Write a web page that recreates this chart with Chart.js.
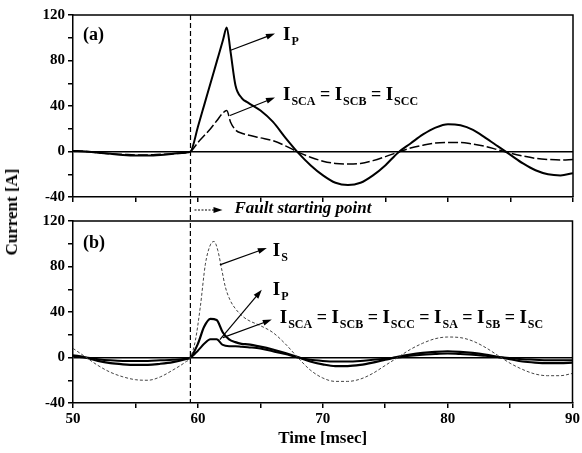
<!DOCTYPE html>
<html>
<head>
<meta charset="utf-8">
<script src="https://cdn.jsdelivr.net/npm/chart.js@4.4.1/dist/chart.umd.min.js"></script>
<style>
  body { margin: 0; background: #fff; }
  #wrap { position: relative; width: 582px; height: 453px; }
  #chartA { position: absolute; left: 0; top: 0; }
  #chartB { position: absolute; left: 0; top: 205px; }
  #ylab {
    position: absolute; left: 12px; top: 212px;
    transform: translate(-50%, -50%) rotate(-90deg);
    font: bold 17px "Liberation Serif", serif; white-space: nowrap; color: #000;
  }
</style>
</head>
<body>
<div id="wrap">
  <canvas id="chartA" width="582" height="225"></canvas>
  <canvas id="chartB" width="582" height="248"></canvas>
  <div id="ylab">Current [A]</div>
</div>
<script>
const faultTime = 59.4;

// panel (a)
const timeA = [50, 51, 52, 53, 54, 55, 56, 57, 58, 59, 59.4, 60, 60.5, 61, 61.5, 62, 62.3, 62.6, 63, 63.5, 64,
  65, 66, 67, 68, 69, 70, 71, 72, 73, 74, 75, 76, 77, 78, 79, 80, 81, 82, 83, 84, 85, 86, 87, 88, 89, 90];
const ipA = [0.5, 0, -1, -2, -3, -3.5, -3.5, -3, -2, -1, 0, 22, 41, 60, 79, 98, 109, 88, 58, 47, 43,
  36, 26, 12, -1, -12, -21, -27.5, -29.5, -27.5, -21, -12, -1, 7, 15, 21, 24, 23, 19, 12, 4.5, -3, -10.5, -16.5, -20, -21, -19];
const iscA = [0.5, 0, -1, -2, -2.5, -3, -3, -2.5, -2, -1, 0, 8, 14, 20, 27, 34, 36, 26, 19, 16, 14.5,
  12, 9.5, 5, -0.5, -5, -8.5, -10.5, -11, -10.5, -8, -4.5, -0.5, 3, 5.5, 7.5, 8, 8, 6.5, 4.5, 1.5, -1.5, -4, -6, -7, -7.5, -7];

// panel (b)
const timeS = [50, 51, 52, 53, 54, 55, 56, 57, 58, 59, 59.4, 59.8, 60.2, 60.6, 61, 61.3, 61.6, 61.9, 62.2, 62.6, 63, 63.5, 64,
  65, 66, 67, 68, 69, 70, 71, 72, 73, 74, 75, 76, 77, 78, 79, 80, 81, 82, 83, 84, 85, 86, 87, 88, 89, 90];
const isB = [8, 0.5, -7, -13, -17, -19.5, -20, -17, -11, -4, 0, 15, 45, 82, 99, 102, 94, 78, 62, 50, 43, 37, 33,
  28, 22, 12, 0, -11, -18, -21, -21, -19, -14, -7, 0, 7, 12.5, 16.5, 18, 17.5, 14.5, 9, 2, -5, -10.5, -14.5, -16, -16, -14];
const timeB = [50, 51, 52, 53, 54, 55, 56, 57, 58, 59, 59.4, 60, 60.5, 61, 61.5, 62, 62.5, 63, 63.5, 64,
  65, 66, 67, 68, 69, 70, 71, 72, 73, 74, 75, 76, 77, 78, 79, 80, 81, 82, 83, 84, 85, 86, 87, 88, 89, 90];
const ipB = [2, 0, -3, -5, -6, -6.5, -6.5, -5.5, -4, -1.5, 0, 12, 27, 34, 33, 22, 16, 13.5, 12, 11.5,
  9.5, 7, 4, 0.5, -3.5, -6, -7.5, -7.5, -6.5, -4.5, -2, 0.5, 2.5, 4, 5, 5.5, 5, 4, 2.5, 0.5, -1.5, -3.5, -4.5, -5, -5, -4.5];
const iscB = [1, 0, -1.5, -2.5, -3, -3, -3, -2.5, -2, -1, 0, 6, 12, 16, 16, 11, 10, 10, 9.5, 9,
  8, 5.5, 3, 0, -2, -3, -3.5, -3.5, -3, -2, -1, 0, 1.5, 2.5, 3, 3.5, 3, 2.5, 1.5, 0.5, -0.5, -1.5, -2, -2.5, -2.5, -2.5];

const xTicks = { min: 50, max: 90, step: 5 };
const yTicks = { min: -40, max: 120, step: 20 };

// annotations in data units: [time, current]
const labelsA = [
  { at: [66.8, 97.6], parts: [['I', 'P']], from: [62.56, 88.8], to: [66.16, 103.7] },
  { at: [66.8, 45.7], parts: [['I', 'SCA'], ['I', 'SCB'], ['I', 'SCC']], from: [62.56, 31.6], to: [66.16, 47.5] },
];
const labelsB = [
  { at: [66.0, 89.3], parts: [['I', 'S']], from: [61.76, 81.4], to: [65.52, 96.3] },
  { at: [66.0, 55.2], parts: [['I', 'P']], from: [61.76, 15.8], to: [65.12, 59.5] },
  { at: [66.56, 30.6], parts: [['I', 'SCA'], ['I', 'SCB'], ['I', 'SCC'], ['I', 'SA'], ['I', 'SB'], ['I', 'SC']],
    from: [62.0, 17.5], to: [65.92, 33.3] },
];

const serif = '"Liberation Serif", "Times New Roman", serif';
const pts = (t, v) => t.map((x, i) => ({ x, y: v[i] }));

function arrow(ctx, x1, y1, x2, y2, dash) {
  const a = Math.atan2(y2 - y1, x2 - x1);
  ctx.save();
  ctx.strokeStyle = '#000';
  ctx.fillStyle = '#000';
  ctx.lineWidth = 1.2;
  if (dash) ctx.setLineDash(dash);
  ctx.beginPath();
  ctx.moveTo(x1, y1);
  ctx.lineTo(x2 - 6 * Math.cos(a), y2 - 6 * Math.sin(a));
  ctx.stroke();
  ctx.setLineDash([]);
  ctx.beginPath();
  ctx.moveTo(x2, y2);
  ctx.lineTo(x2 - 9 * Math.cos(a) + 3 * Math.sin(a), y2 - 9 * Math.sin(a) - 3 * Math.cos(a));
  ctx.lineTo(x2 - 9 * Math.cos(a) - 3 * Math.sin(a), y2 - 9 * Math.sin(a) + 3 * Math.cos(a));
  ctx.closePath();
  ctx.fill();
  ctx.restore();
}

function subText(ctx, x, y, parts) {
  let cx = x;
  ctx.save();
  ctx.fillStyle = '#000';
  ctx.textBaseline = 'alphabetic';
  ctx.textAlign = 'left';
  parts.forEach((p, i) => {
    if (i > 0) {
      ctx.font = 'bold 18px ' + serif;
      ctx.fillText(' = ', cx, y);
      cx += ctx.measureText(' = ').width;
    }
    ctx.font = 'bold 19px ' + serif;
    ctx.fillText(p[0], cx, y);
    cx += ctx.measureText(p[0]).width + 1;
    ctx.font = 'bold 12px ' + serif;
    ctx.fillText(p[1], cx, y + 5);
    cx += ctx.measureText(p[1]).width;
  });
  ctx.restore();
}

function panelPlugin(tag, labels, isTop) {
  return {
    id: 'panel' + tag,
    afterDatasetsDraw(chart) {
      const { ctx, chartArea: ca, scales } = chart;
      const px = t => scales.x.getPixelForValue(t);
      const py = v => scales.y.getPixelForValue(v);
      labels.forEach(l => {
        arrow(ctx, px(l.from[0]), py(l.from[1]), px(l.to[0]), py(l.to[1]));
        subText(ctx, px(l.at[0]), py(l.at[1]), l.parts);
      });
      // fault line
      const fx = px(faultTime);
      ctx.save();
      ctx.strokeStyle = '#000';
      ctx.lineWidth = 1.2;
      ctx.setLineDash([5, 3]);
      ctx.beginPath();
      if (isTop) {
        ctx.moveTo(fx, ca.top);
        ctx.lineTo(fx, ca.bottom + 8);
      } else {
        ctx.lineDashOffset = 6;
        ctx.moveTo(fx, 0);
        ctx.lineTo(fx, ca.bottom);
      }
      ctx.stroke();
      ctx.restore();
      // panel tag
      ctx.save();
      ctx.fillStyle = '#000';
      ctx.font = 'bold 18px ' + serif;
      ctx.fillText('(' + tag + ')', ca.left + 10, ca.top + (isTop ? 25 : 27));
      if (isTop) {
        arrow(ctx, fx + 4, ca.bottom + 13, fx + 32, ca.bottom + 13, [2, 1.5]);
        ctx.font = 'italic bold 17px ' + serif;
        ctx.fillText('Fault starting point', fx + 44, ca.bottom + 16);
      }
      ctx.restore();
    },
    afterDraw(chart) {
      const { ctx, chartArea: ca } = chart;
      ctx.save();
      ctx.strokeStyle = '#000';
      ctx.lineWidth = 1.5;
      ctx.beginPath();
      ctx.moveTo(ca.left, ca.top);
      ctx.lineTo(ca.right, ca.top);
      ctx.lineTo(ca.right, ca.bottom);
      ctx.stroke();
      ctx.restore();
    }
  };
}

function scalesFor(isTop) {
  const tickFont = { family: serif, size: 15, weight: 'bold' };
  return {
    x: {
      type: 'linear', min: xTicks.min, max: xTicks.max,
      afterFit: s => { s.height = isTop ? 28 : 50; },
      ticks: {
        stepSize: xTicks.step, color: '#000', font: tickFont, padding: 2, maxRotation: 0, autoSkip: false,
        callback: v => (!isTop && v % 10 === 0) ? v : ''
      },
      grid: { drawOnChartArea: false, tickLength: 5, tickColor: '#000', lineWidth: 1.5 },
      border: { color: '#000', width: 1.5 },
      title: {
        display: !isTop, text: 'Time [msec]', color: '#000',
        font: { family: serif, size: 17, weight: 'bold' }, padding: { top: 0, bottom: 4 }
      }
    },
    y: {
      min: yTicks.min, max: yTicks.max,
      afterFit: s => { s.width = 73; },
      ticks: {
        stepSize: yTicks.step, color: '#000', font: tickFont, padding: 3, autoSkip: false,
        callback: v => v % 40 === 0 ? v : ''
      },
      grid: {
        color: c => (c.tick && c.tick.value === 0) ? '#000' : 'rgba(0,0,0,0)',
        lineWidth: 1.5, tickColor: '#000', tickLength: 5
      },
      border: { color: '#000', width: 1.5 }
    }
  };
}

function makeChart(id, datasets, tag, labels, isTop) {
  return new Chart(document.getElementById(id), {
    type: 'line',
    data: { datasets },
    options: {
      responsive: false,
      animation: false,
      layout: { padding: { top: isTop ? 15 : 16, right: 9, left: 0, bottom: 0 } },
      elements: { point: { radius: 0 }, line: { cubicInterpolationMode: 'monotone' } },
      plugins: { legend: { display: false }, tooltip: { enabled: false } },
      scales: scalesFor(isTop)
    },
    plugins: [panelPlugin(tag, labels, isTop)]
  });
}

makeChart('chartA', [
  { label: 'I_P', data: pts(timeA, ipA), borderColor: '#000', borderWidth: 2 },
  { label: 'I_SCA = I_SCB = I_SCC', data: pts(timeA, iscA), borderColor: '#000', borderWidth: 1.5, borderDash: [10, 3] }
], 'a', labelsA, true);

makeChart('chartB', [
  { label: 'I_S', data: pts(timeS, isB), borderColor: '#444', borderWidth: 1, borderDash: [3, 2] },
  { label: 'I_P', data: pts(timeB, ipB), borderColor: '#000', borderWidth: 2.2 },
  { label: 'I_SCA = I_SCB = I_SCC = I_SA = I_SB = I_SC', data: pts(timeB, iscB), borderColor: '#000', borderWidth: 2 }
], 'b', labelsB, false);
</script>
</body>
</html>
